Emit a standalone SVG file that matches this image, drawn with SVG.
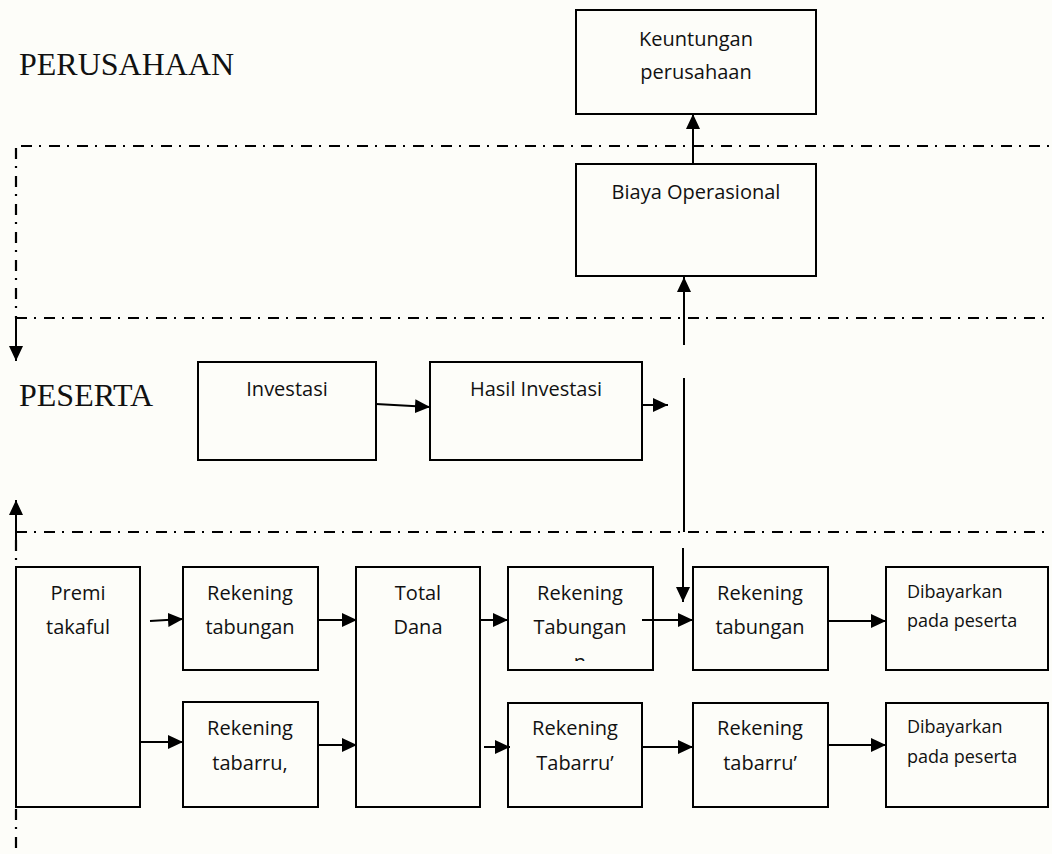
<svg xmlns="http://www.w3.org/2000/svg" width="1052" height="854" viewBox="0 0 1052 854">
<style>
.box{fill:none;stroke:#000;stroke-width:2}
.t{font-family:"Open Sans","Noto Sans",sans-serif;font-size:20px;fill:#111;text-anchor:middle}
.ts{font-family:"Open Sans","Noto Sans",sans-serif;font-size:18px;fill:#111}
.sec{font-family:"Liberation Serif","Times New Roman",serif;font-size:32px;fill:#111}
.dd{fill:none;stroke:#000;stroke-width:2.2;stroke-dasharray:11 7 2 8}
.c{fill:none;stroke:#000;stroke-width:2}
.a{fill:none;stroke:#000;stroke-width:2;marker-end:url(#ah)}
</style>
<defs>
<marker id="ah" viewBox="0 0 15 14" refX="15" refY="7" markerWidth="15" markerHeight="14" markerUnits="userSpaceOnUse" orient="auto">
<path d="M0,0 L15,7 L0,14 z" fill="#000"/>
</marker>
<clipPath id="clipTab"><rect x="509" y="568" width="143" height="93"/></clipPath>
</defs>
<rect x="0" y="0" width="1052" height="854" fill="#fdfdf9"/>

<g id="section-labels">
<text class="sec" x="19" y="75">PERUSAHAAN</text>
<text class="sec" x="19" y="406">PESERTA</text>
</g>

<g id="boundaries">
<path class="dd" d="M21,146 H1052"/>
<path class="dd" d="M16,318 H1052"/>
<path class="dd" d="M16,532 H1052"/>
<path class="dd" d="M16,148 V318"/>
<path class="dd" d="M16,540 V567"/>
<path class="dd" d="M16,809 V854"/>
</g>

<g id="keuntungan">
<rect class="box" x="576" y="10" width="240" height="104"/>
<text class="t" x="696" y="46">Keuntungan</text>
<text class="t" x="696" y="79">perusahaan</text>
</g>
<g id="biaya">
<rect class="box" x="576" y="164" width="240" height="112"/>
<text class="t" x="696" y="199">Biaya Operasional</text>
</g>
<g id="investasi">
<rect class="box" x="198" y="362" width="178" height="98"/>
<text class="t" x="287" y="396">Investasi</text>
</g>
<g id="hasil">
<rect class="box" x="430" y="362" width="212" height="98"/>
<text class="t" x="536" y="396">Hasil Investasi</text>
</g>
<g id="premi">
<rect class="box" x="16" y="567" width="124" height="240"/>
<text class="t" x="78" y="600">Premi</text>
<text class="t" x="78" y="634">takaful</text>
</g>
<g id="rek-tabungan-1">
<rect class="box" x="183" y="567" width="135" height="103"/>
<text class="t" x="250" y="600">Rekening</text>
<text class="t" x="250" y="634">tabungan</text>
</g>
<g id="rek-tabarru-1">
<rect class="box" x="183" y="702" width="135" height="105"/>
<text class="t" x="250" y="735">Rekening</text>
<text class="t" x="250" y="770">tabarru,</text>
</g>
<g id="total-dana">
<rect class="box" x="356" y="567" width="124" height="240"/>
<text class="t" x="418" y="600">Total</text>
<text class="t" x="418" y="634">Dana</text>
</g>
<g id="rek-tabungan-2">
<rect class="box" x="508" y="567" width="145" height="103"/>
<text class="t" x="580" y="600">Rekening</text>
<text class="t" x="580" y="634">Tabungan</text>
<text class="t" x="580" y="669" clip-path="url(#clipTab)">n</text>
</g>
<g id="rek-tabarru-2">
<rect class="box" x="508" y="703" width="134" height="104"/>
<text class="t" x="575" y="735">Rekening</text>
<text class="t" x="575" y="770">Tabarru’</text>
</g>
<g id="rek-tabungan-3">
<rect class="box" x="693" y="567" width="135" height="103"/>
<text class="t" x="760" y="600">Rekening</text>
<text class="t" x="760" y="634">tabungan</text>
</g>
<g id="rek-tabarru-3">
<rect class="box" x="693" y="703" width="135" height="104"/>
<text class="t" x="760" y="735">Rekening</text>
<text class="t" x="760" y="770">tabarru’</text>
</g>
<g id="dibayarkan-1">
<rect class="box" x="886" y="567" width="162" height="103"/>
<text class="ts" x="907" y="598">Dibayarkan</text>
<text class="ts" x="907" y="627">pada peserta</text>
</g>
<g id="dibayarkan-2">
<rect class="box" x="886" y="703" width="162" height="104"/>
<text class="ts" x="907" y="733">Dibayarkan</text>
<text class="ts" x="907" y="763">pada peserta</text>
</g>

<g id="connectors">
<path class="a" d="M693,164 V114"/>
<path class="a" d="M684,345 V277"/>
<path class="c" d="M684,378 V532"/>
<path class="a" d="M683,548 V602"/>
<path class="a" d="M376,404 L430,407"/>
<path class="a" d="M642,405 H668"/>
<path class="a" d="M16,318 V361"/>
<path class="a" d="M16,540 V500"/>
<path class="a" d="M150,621 L183,619"/>
<path class="a" d="M140,742 H183"/>
<path class="a" d="M318,620 H357"/>
<path class="a" d="M318,745 H357"/>
<path class="a" d="M480,620 H508"/>
<path class="a" d="M484,747 H510"/>
<path class="a" d="M642,620 H693"/>
<path class="a" d="M642,747 H693"/>
<path class="a" d="M828,621 H886"/>
<path class="a" d="M828,745 H886"/>
</g>
</svg>
